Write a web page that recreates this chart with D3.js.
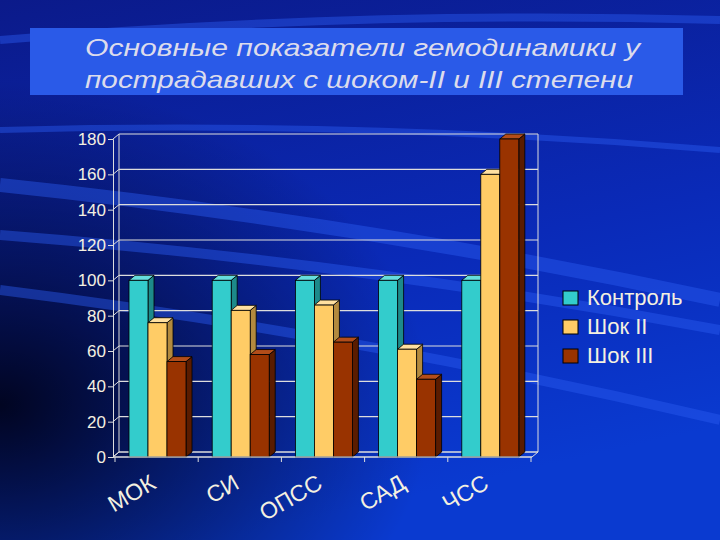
<!DOCTYPE html>
<html><head><meta charset="utf-8">
<script src="https://cdn.jsdelivr.net/npm/d3@7"></script>
<style>body{margin:0;background:#0a1e9c}</style></head>
<body><svg id="c" width="720" height="540"></svg>
<script>
const categories = ['МОК', 'СИ', 'ОПСС', 'САД', 'ЧСС'];
const seriesNames = ['Контроль', 'Шок II', 'Шок III'];
const control = [100, 100, 100, 100, 100];
const shock2 = [76, 83, 86, 61, 160];
const shock3 = [54, 58, 65, 44, 180];
const yTicks = [0, 20, 40, 60, 80, 100, 120, 140, 160, 180];
const colors = ['#33cccc', '#ffcc66', '#993300'];
const sides = ['#1d8a8a', '#b38a3e', '#5a1c00'];
const tops = ['#66dede', '#ffe0a0', '#b34d1a'];
const font = 'Liberation Sans, Arial, sans-serif';

const svg = d3.select('#c');
const defs = svg.append('defs');
const bg = defs.append('linearGradient').attr('id', 'bg').attr('x1', 0).attr('y1', 0).attr('x2', 0.3).attr('y2', 1);
bg.append('stop').attr('offset', '0%').attr('stop-color', '#0b1a8a');
bg.append('stop').attr('offset', '60%').attr('stop-color', '#0a2ab8');
bg.append('stop').attr('offset', '100%').attr('stop-color', '#0a3ad0');
svg.append('rect').attr('width', 720).attr('height', 540).attr('fill', 'url(#bg)');
const dark = defs.append('radialGradient').attr('id', 'dk').attr('cx', 0).attr('cy', 0.75).attr('r', 0.6);
dark.append('stop').attr('offset', '0%').attr('stop-color', '#000010').attr('stop-opacity', 0.9);
dark.append('stop').attr('offset', '100%').attr('stop-color', '#000010').attr('stop-opacity', 0);
svg.append('rect').attr('width', 720).attr('height', 540).attr('fill', 'url(#dk)');
// streaks
[[0, 40, 720, 20, 8], [0, 185, 720, 300, 14], [0, 235, 720, 330, 10], [0, 290, 720, 420, 10], [0, 130, 720, 150, 6]].forEach(s => {
  svg.append('path').attr('d', `M${s[0]},${s[1]} Q360,${(s[1] + s[3]) / 2 - 20} ${s[2]},${s[3]}`)
    .attr('stroke', '#2a5cf0').attr('stroke-opacity', 0.45).attr('stroke-width', s[4]).attr('fill', 'none');
});

// title box
svg.append('rect').attr('x', 30).attr('y', 28).attr('width', 653).attr('height', 67).attr('fill', '#2a5ae8');
[['Основные показатели гемодинамики у', 56], ['пострадавших с шоком-II и III степени', 88]].forEach(([t, ty]) => {
  svg.append('text').attr('x', 85).attr('y', ty)
    .attr('font-family', font).attr('font-style', 'italic').attr('font-size', 24)
    .attr('textLength', t.length > 36 ? 548 : 555).attr('lengthAdjust', 'spacingAndGlyphs')
    .attr('fill', '#dcdcec').text(t);
});

const y = d3.scaleLinear().domain([0, 180]).range([457, 139]);
const x0 = d3.scaleBand().domain(categories).range([115, 531]);
const x1 = d3.scaleBand().domain(seriesNames).range([14, 71]);
const dx = 6, dy = -5;

const g = svg.append('g');
g.append('path').attr('d', `M113,${y(0)} L${113 + dx},${y(0) + dy} L${538},${y(0) + dy} L532,${y(0)} Z`).attr('fill', 'none').attr('stroke', '#ddd');
yTicks.forEach(t => {
  g.append('line').attr('x1', 113).attr('x2', 113 + dx).attr('y1', y(t)).attr('y2', y(t) + dy).attr('stroke', '#ddd');
  g.append('line').attr('x1', 113 + dx).attr('x2', 538).attr('y1', y(t) + dy).attr('y2', y(t) + dy).attr('stroke', '#ddd').attr('stroke-width', 1.2);
});
g.append('line').attr('x1', 113 + dx).attr('x2', 113 + dx).attr('y1', y(0) + dy).attr('y2', y(180) + dy).attr('stroke', '#ddd');
g.append('line').attr('x1', 538).attr('x2', 538).attr('y1', y(0) + dy).attr('y2', y(180) + dy).attr('stroke', '#ddd');

const yAxis = d3.axisLeft(y).tickValues(yTicks).tickSize(5);
const ya = svg.append('g').attr('transform', 'translate(113,0)').call(yAxis);
ya.attr('font-size', 17).attr('font-family', font);
ya.select('.domain').attr('stroke', '#ddd');
ya.selectAll('line').attr('stroke', '#ddd');
ya.selectAll('text').attr('fill', '#f4f0e0').attr('x', -7);

const xa = svg.append('g').attr('transform', `translate(0,${y(0)})`);
xa.append('line').attr('x1', 113).attr('x2', 532).attr('stroke', '#ddd');
d3.range(6).forEach(i => xa.append('line').attr('x1', 115 + i * x0.bandwidth()).attr('x2', 115 + i * x0.bandwidth()).attr('y2', 5).attr('stroke', '#ddd'));
categories.forEach(c => {
  svg.append('text').attr('transform', `translate(${x0(c) + 34},${y(0) + 16}) rotate(-30)`)
    .attr('text-anchor', 'end').attr('font-family', font).attr('font-size', 23)
    .attr('dominant-baseline', 'hanging')
    .attr('fill', '#f4f0e0').text(c);
});

const series = [control, shock2, shock3];
categories.forEach((c, ci) => {
  series.forEach((s, si) => {
    const bx = x0(c) + x1(seriesNames[si]), bw = x1.bandwidth(), top = y(s[ci]), bot = y(0);
    g.append('path').attr('d', `M${bx + bw},${bot} L${bx + bw + dx},${bot + dy} L${bx + bw + dx},${top + dy} L${bx + bw},${top} Z`)
      .attr('fill', sides[si]).attr('stroke', '#000').attr('stroke-width', 0.8);
    g.append('path').attr('d', `M${bx},${top} L${bx + dx},${top + dy} L${bx + bw + dx},${top + dy} L${bx + bw},${top} Z`)
      .attr('fill', tops[si]).attr('stroke', '#000').attr('stroke-width', 0.8);
    g.append('rect').attr('x', bx).attr('y', top).attr('width', bw).attr('height', bot - top)
      .attr('fill', colors[si]).attr('stroke', '#000').attr('stroke-width', 0.8);
  });
});

const lg = svg.append('g').attr('transform', 'translate(563,298)');
seriesNames.forEach((n, i) => {
  lg.append('rect').attr('x', 0).attr('y', i * 29 - 7).attr('width', 15).attr('height', 14).attr('fill', colors[i]).attr('stroke', '#000');
  lg.append('text').attr('x', 24).attr('y', i * 29 + 1).attr('font-family', font).attr('font-size', 22)
    .attr('fill', '#f4f0e0').attr('dominant-baseline', 'middle').text(n);
});
</script></body></html>
